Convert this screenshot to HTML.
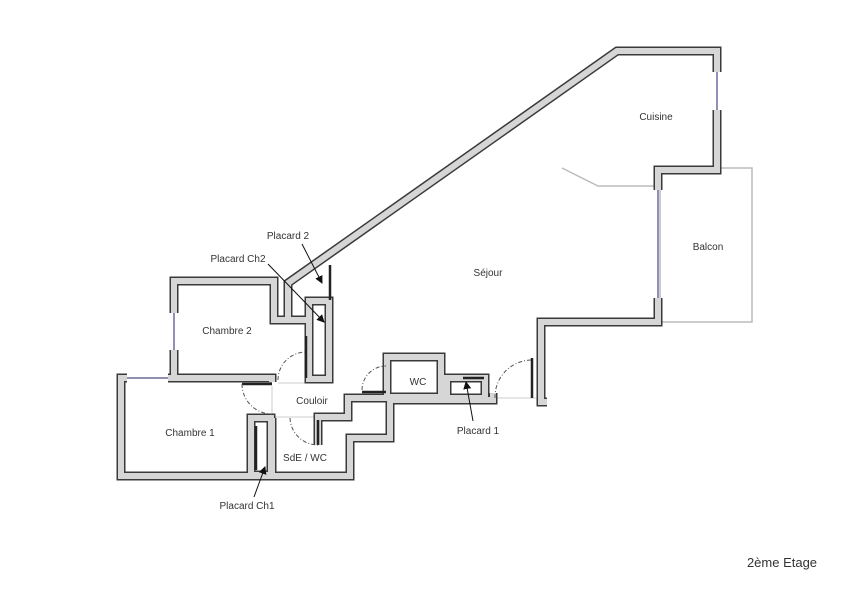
<!DOCTYPE html>
<html><head><meta charset="utf-8"><style>
html,body{margin:0;padding:0;background:#fff;}
svg{display:block;}
text{font-family:"Liberation Sans","DejaVu Sans",sans-serif;font-size:10px;fill:#333;}
</style></head><body>
<svg width="860" height="592" viewBox="0 0 860 592" xmlns="http://www.w3.org/2000/svg">
<defs>
<marker id="ah" markerWidth="8" markerHeight="8" refX="7" refY="4" orient="auto" markerUnits="userSpaceOnUse"><path d="M0,0 L8,4 L0,8 z" fill="#111"/></marker>
</defs>
<rect x="660" y="168" width="92" height="154" fill="none" stroke="#bbb" stroke-width="1.5"/>
<polyline points="562,168 598,186 658,186" fill="none" stroke="#bbb" stroke-width="1.5"/>
<g stroke="#ccc" stroke-width="1" fill="none">
<line x1="493" y1="398" x2="537" y2="398"/>
<line x1="272" y1="386" x2="272" y2="417"/>
<line x1="272" y1="417" x2="318" y2="417"/>
<line x1="278" y1="383" x2="306" y2="383"/>
</g>
<g fill="none" stroke-linejoin="miter" stroke-linecap="butt">
<g stroke="#3a3a3a" stroke-width="9">
<polyline points="127,378 121,378 121,476 350,476 350,438 390,438 390,400 493,400 493,393"/>
<polyline points="168,378 272,378 272,382"/>
<polyline points="174,313 174,281 274,281 274,320 310,320"/>
<polyline points="174,350 174,378"/>
<polyline points="288,318 288,283 617,51 717,51 717,72"/>
<polyline points="717,110 717,170 658,170 658,190"/>
<polyline points="658,298 658,322 541,322 541,402 547,402"/>
<rect x="309" y="301" width="20" height="78"/>
<rect x="251" y="418" width="20" height="57"/>
<polyline points="272,418 272,476"/>
<polyline points="318,445 318,417 348,417 348,398 390,398"/>
<rect x="387" y="357" width="54" height="40"/>
<rect x="447" y="378" width="38" height="20"/>
</g>
<g stroke="#d6d6d6" stroke-width="6">
<polyline points="127,378 121,378 121,476 350,476 350,438 390,438 390,400 493,400 493,393"/>
<polyline points="168,378 272,378 272,382"/>
<polyline points="174,313 174,281 274,281 274,320 310,320"/>
<polyline points="174,350 174,378"/>
<polyline points="288,318 288,283 617,51 717,51 717,72"/>
<polyline points="717,110 717,170 658,170 658,190"/>
<polyline points="658,298 658,322 541,322 541,402 547,402"/>
<rect x="309" y="301" width="20" height="78"/>
<rect x="251" y="418" width="20" height="57"/>
<polyline points="272,418 272,476"/>
<polyline points="318,445 318,417 348,417 348,398 390,398"/>
<rect x="387" y="357" width="54" height="40"/>
<rect x="447" y="378" width="38" height="20"/>
</g>
</g>
<g stroke="#6a6a9a" stroke-width="1.5">
<line x1="127" y1="378" x2="168" y2="378"/>
<line x1="174" y1="313" x2="174" y2="350"/>
<line x1="717" y1="72" x2="717" y2="110"/>
<line x1="658" y1="190" x2="658" y2="298"/>
</g>
<g stroke="#222" stroke-width="2.5">
<line x1="306" y1="336" x2="306" y2="378"/>
<line x1="242" y1="384" x2="272" y2="384"/>
<line x1="318" y1="420" x2="318" y2="445"/>
<line x1="362" y1="392" x2="386" y2="392"/>
<line x1="532" y1="358" x2="532" y2="398"/>
<line x1="330" y1="265" x2="330" y2="300"/>
<line x1="256" y1="426" x2="256" y2="470"/>
<line x1="463" y1="378" x2="484" y2="378"/>
</g>
<g fill="none" stroke="#555" stroke-width="1" stroke-dasharray="4,2,1,2">
<path d="M278,380 A28,28 0 0 1 306,352"/>
<path d="M242,384 A30,30 0 0 0 272,414"/>
<path d="M290,418 A28,28 0 0 0 318,445"/>
<path d="M362,390 A24,24 0 0 1 386,366"/>
<path d="M495,398 A37,37 0 0 1 532,360"/>
</g>
<g stroke="#111" stroke-width="1" marker-end="url(#ah)">
<line x1="302" y1="244" x2="322" y2="283"/>
<line x1="268" y1="264" x2="324" y2="322"/>
<line x1="254" y1="497" x2="265" y2="467"/>
<line x1="473" y1="421" x2="466" y2="382"/>
</g>
<text x="656" y="120" text-anchor="middle">Cuisine</text>
<text x="708" y="250" text-anchor="middle">Balcon</text>
<text x="488" y="276" text-anchor="middle">Séjour</text>
<text x="227" y="334" text-anchor="middle">Chambre 2</text>
<text x="190" y="436" text-anchor="middle">Chambre 1</text>
<text x="312" y="404" text-anchor="middle">Couloir</text>
<text x="418" y="385" text-anchor="middle">WC</text>
<text x="305" y="461" text-anchor="middle">SdE / WC</text>
<text x="288" y="239" text-anchor="middle">Placard 2</text>
<text x="238" y="262" text-anchor="middle">Placard Ch2</text>
<text x="247" y="509" text-anchor="middle">Placard Ch1</text>
<text x="478" y="434" text-anchor="middle">Placard 1</text>
<text x="782" y="567" text-anchor="middle" style="font-size:13px">2ème Etage</text>
</svg>
</body></html>
